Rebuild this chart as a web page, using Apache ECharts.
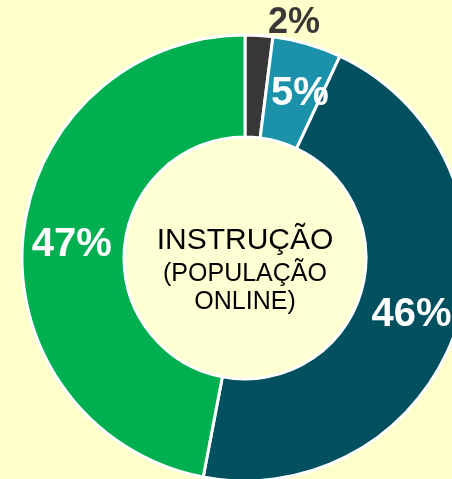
<!DOCTYPE html>
<html>
<head>
<meta charset="utf-8">
<script src="https://cdn.jsdelivr.net/npm/echarts@6/dist/echarts.min.js"></script>
<style>
  html, body { margin: 0; padding: 0; background: #FFFFCC; }
  #chart { width: 452px; height: 479px; }
</style>
</head>
<body>
<div id="chart"></div>
<script>
// fatias no sentido horario a partir do topo
const categories = ['Fatia 1', 'Fatia 2', 'Fatia 3', 'Fatia 4'];
const values = [2, 5, 46, 47];
const sliceColors = ['#3A3836', '#1B92AA', '#00505F', '#00B050'];
const centerLines = ['INSTRUÇÃO', '(POPULAÇÃO', 'ONLINE)'];

const font = 'Liberation Sans, Arial, sans-serif';

// ajuste fino dos rotulos (o de 2% fica fora do anel)
const labelOffsets = [[38, -60], [6, 4], [0, 3], [1, 3]];

const chart = echarts.init(document.getElementById('chart'));

chart.setOption({
  backgroundColor: '#FFFFCC',
  animation: false,
  series: [
    {
      type: 'pie',
      center: [245, 258],
      radius: [121, 223],
      startAngle: 90,
      clockwise: true,
      silent: true,
      labelLine: { show: false },
      itemStyle: { borderColor: '#FFFFFF', borderWidth: 3 },
      data: categories.map((name, i) => ({
        name,
        value: values[i],
        itemStyle: { color: sliceColors[i] },
        label: {
          show: true,
          position: 'inside',
          formatter: values[i] + '%',
          fontFamily: font,
          fontWeight: 'bold',
          fontSize: i === 0 ? 36 : 40,
          color: i === 0 ? '#3A3836' : '#FFFFFF',
          offset: labelOffsets[i]
        }
      }))
    },
    {
      type: 'pie',
      center: [245, 258],
      radius: [0, 119],
      silent: true,
      labelLine: { show: false },
      itemStyle: { color: '#FFFFD4' },
      data: [{
        name: 'centro',
        value: 1,
        label: {
          show: true,
          position: 'center',
          offset: [0, 11],
          formatter: '{a|' + centerLines[0] + '}\n{b|' + centerLines[1] + '}\n{b|' + centerLines[2] + '}',
          rich: {
            a: { fontFamily: font, fontSize: 30, color: '#000', lineHeight: 38 },
            b: { fontFamily: font, fontSize: 25, color: '#000', lineHeight: 28 }
          }
        }
      }]
    }
  ]
});
</script>
</body>
</html>
